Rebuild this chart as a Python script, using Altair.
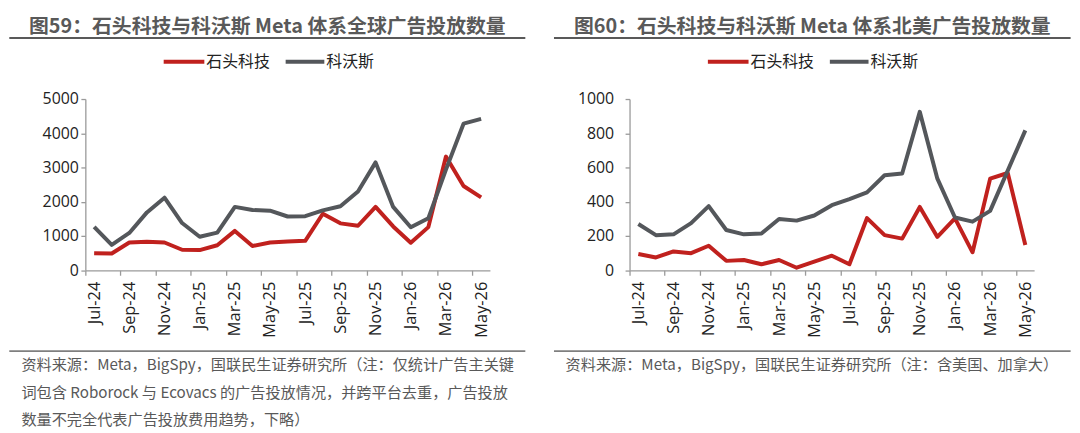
import altair as alt
import pandas as pd

# ---------------- data ----------------
months = ["Jul-24", "Aug-24", "Sep-24", "Oct-24", "Nov-24", "Dec-24",
          "Jan-25", "Feb-25", "Mar-25", "Apr-25", "May-25", "Jun-25",
          "Jul-25", "Aug-25", "Sep-25", "Oct-25", "Nov-25", "Dec-25",
          "Jan-26", "Feb-26", "Mar-26", "Apr-26", "May-26"]
tick_labels = ["Jul-24", "Sep-24", "Nov-24", "Jan-25", "Mar-25", "May-25",
               "Jul-25", "Sep-25", "Nov-25", "Jan-26", "Mar-26", "May-26"]
series = ["石头科技", "科沃斯"]
colors = ["#C0211E", "#54575B"]

roborock_global = [500, 490, 810, 830, 810, 600, 590, 730, 1150, 710, 810, 840,
                   860, 1650, 1370, 1300, 1850, 1280, 805, 1260, 3320, 2460, 2130]
ecovacs_global = [1270, 740, 1090, 1690, 2120, 1380, 980, 1100, 1850, 1760, 1740, 1570,
                  1580, 1750, 1870, 2300, 3150, 1850, 1255, 1520, 2940, 4280, 4420]
roborock_na = [95, 75, 110, 100, 143, 55, 60, 35, 60, 15, 50, 85,
               35, 305, 205, 185, 370, 195, 303, 105, 535, 568, 148]
ecovacs_na = [270, 205, 210, 275, 375, 235, 210, 215, 300, 290, 320, 380,
              415, 455, 555, 565, 925, 535, 308, 284, 347, 582, 817]

titles = ["图59：石头科技与科沃斯 Meta 体系全球广告投放数量",
          "图60：石头科技与科沃斯 Meta 体系北美广告投放数量"]
notes = [["资料来源：Meta，BigSpy，国联民生证券研究所（注：仅统计广告主关键",
          "词包含 Roborock 与 Ecovacs 的广告投放情况，并跨平台去重，广告投放",
          "数量不完全代表广告投放费用趋势，下略）"],
         ["资料来源：Meta，BigSpy，国联民生证券研究所（注：含美国、加拿大）"]]
y_max = [5000, 1000]
y_ticks = [[0, 1000, 2000, 3000, 4000, 5000], [0, 200, 400, 600, 800, 1000]]

# ---------------- styling ----------------
W = 408
H = 172.7
HALF = W / len(months) / 2
AXIS_GRAY = "#9a9a9a"
TEXT_GRAY = "#595959"
CJK = "Noto Sans CJK SC"
LATIN = "Open Sans"


def one(text):
    return pd.DataFrame({"t": [text]})


def panel(vals, ymax, yvals, title, note, box_l, box_r, ylab_pad):
    x_enc = alt.X("month:O", sort=months,
                  scale=alt.Scale(type="point", domain=months, padding=0.5),
                  axis=alt.Axis(values=tick_labels, title=None, labelAngle=-90,
                                labelAlign="right", labelBaseline="middle",
                                labelPadding=6, labelOverlap=False,
                                tickOffset=-HALF, labelOffset=HALF,
                                tickSize=5, tickWidth=1.3, tickColor=AXIS_GRAY,
                                domainColor=AXIS_GRAY, domainWidth=1.3,
                                labelFont=LATIN, labelFontSize=16.5,
                                labelColor="#222222", grid=False))
    y_enc = alt.Y("value:Q",
                  scale=alt.Scale(domain=[0, ymax], nice=False, zero=True),
                  axis=alt.Axis(values=yvals, title=None, format="d",
                                tickSize=4.5, tickWidth=1.3,
                                tickColor=AXIS_GRAY, domainColor=AXIS_GRAY,
                                domainWidth=1.3, labelPadding=ylab_pad,
                                labelFont=LATIN, labelFontSize=16,
                                labelColor="#222222", grid=False))
    layers = []
    for name, col, v in zip(series, colors, vals):
        df = pd.DataFrame({"month": months, "value": v, "series": name})
        layers.append(alt.Chart(df).mark_line(color=col, strokeWidth=4,
                                              strokeJoin="round")
                      .encode(x=x_enc, y=y_enc))

    # invisible box fixing panel extent
    layers.append(alt.Chart(one("")).mark_rule(strokeOpacity=0, strokeWidth=0.1).encode(
        x=alt.value(box_l), x2=alt.value(box_r),
        y=alt.value(-89.4), y2=alt.value(336)))

    # title + underline
    layers.append(alt.Chart(one(title)).mark_text(
        font=CJK, fontWeight="bold", fontSize=20, color=TEXT_GRAY,
        align="center", baseline="middle").encode(
        x=alt.value((box_l + box_r) / 2), y=alt.value(-72.2), text="t:N"))
    layers.append(alt.Chart(one("")).mark_rule(color=TEXT_GRAY, strokeWidth=2).encode(
        x=alt.value(box_l), x2=alt.value(box_r), y=alt.value(-61.5)))

    # legend
    leg = [(79, 120, 122), (202, 241, 243)]
    for (x1, x2, xt), name, col in zip(leg, series, colors):
        layers.append(alt.Chart(one(name)).mark_rule(color=col, strokeWidth=4).encode(
            x=alt.value(x1), x2=alt.value(x2), y=alt.value(-37.5)))
        layers.append(alt.Chart(one(name)).mark_text(
            font=CJK, fontSize=16, color="#222222", align="left",
            baseline="middle").encode(
            x=alt.value(xt), y=alt.value(-37.5), text="t:N"))

    # bottom separator + source notes
    layers.append(alt.Chart(one("")).mark_rule(color="#7f7f7f", strokeWidth=1.8).encode(
        x=alt.value(box_l), x2=alt.value(box_r), y=alt.value(254.2)))
    for i, line in enumerate(note):
        layers.append(alt.Chart(one(line)).mark_text(
            font=CJK, fontSize=15.3, color=TEXT_GRAY, align="left",
            baseline="middle").encode(
            x=alt.value(-64.5), y=alt.value(268.5 + i * 27.5), text="t:N"))

    return alt.layer(*layers).properties(width=W, height=H)


left = panel([roborock_global, ecovacs_global], y_max[0], y_ticks[0],
             titles[0], notes[0], -76.7, 443.7, 2.5)
right = panel([roborock_na, ecovacs_na], y_max[1], y_ticks[1],
              titles[1], notes[1], -76.2, 444.8, 11.5)

chart = alt.hconcat(left, right, spacing=25.8).properties(
    padding=0, background="white").configure_view(stroke=None)

chart.save("out.html", embed_options={"renderer": "svg", "actions": False})
